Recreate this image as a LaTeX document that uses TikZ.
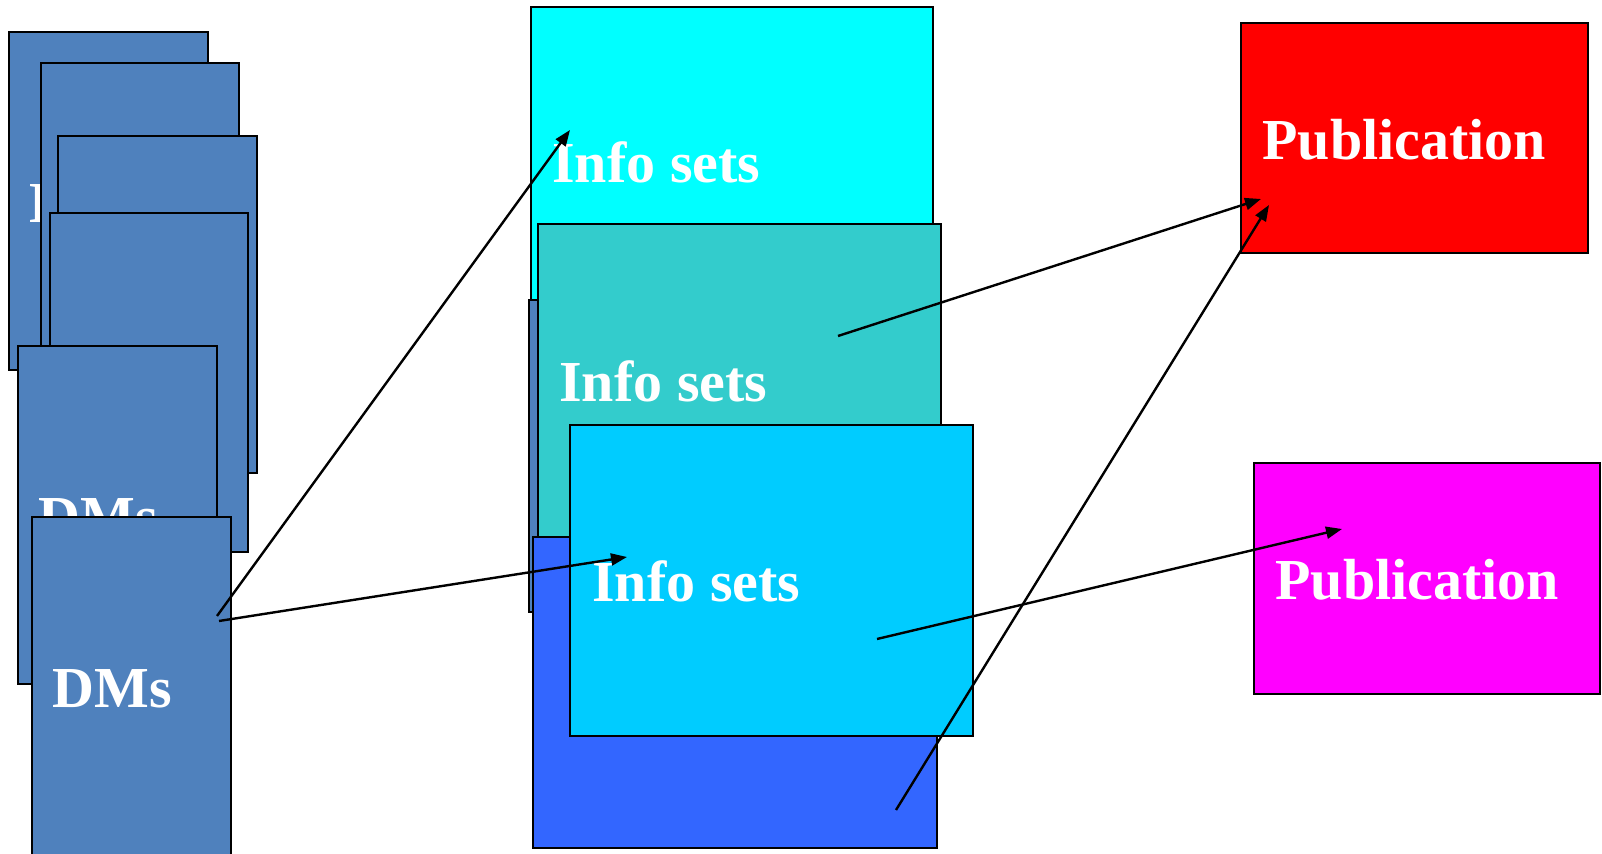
\documentclass[tikz,border=0pt]{standalone}
\usepackage{fontspec}
\setmainfont{Liberation Serif}
\usetikzlibrary{arrows.meta}
\definecolor{dmblue}{HTML}{4F81BD}
\definecolor{setcyan}{HTML}{00FFFF}
\definecolor{setteal}{HTML}{33CCCC}
\definecolor{setblue}{HTML}{3366FF}
\definecolor{setsky}{HTML}{00CCFF}
\definecolor{pubred}{HTML}{FF0000}
\definecolor{pubpink}{HTML}{FF00FF}
\tikzset{
  box/.style={draw=black,line width=1.2pt},
  lbl/.style={anchor=base west,inner sep=0pt,text=white,font=\bfseries\fontsize{29}{30}\selectfont},
  link/.style={line width=1.2pt,-{Triangle[length=8pt,width=6pt]}}
}
\begin{document}
\begin{tikzpicture}[x=0.5pt,y=-0.5pt]
\useasboundingbox (0,0) rectangle (1602,854);
% decision makers, back to front
\filldraw[box,fill=dmblue] (9,32) rectangle (208,370);
\node[lbl] (dmsA) at (29,223) {DMs};
\filldraw[box,fill=dmblue] (41,63) rectangle (239,470);
\filldraw[box,fill=dmblue] (58,136) rectangle (257,473);
\filldraw[box,fill=dmblue] (50,213) rectangle (248,552);
\filldraw[box,fill=dmblue] (18,346) rectangle (217,684);
\node[lbl] (dmsE) at (38,537) {DMs};
\filldraw[box,fill=dmblue] (32,517) rectangle (231,870);
\node[lbl] (dmsF) at (52,708) {DMs};
% info sets
\filldraw[box,fill=setcyan] (531,7) rectangle (933,420);
\node[lbl] (setG) at (552,183) {Info sets};
\filldraw[box,fill=dmblue] (529,300) rectangle (930,612);
\filldraw[box,fill=setteal] (538,224) rectangle (941,537);
\node[lbl] (setI) at (559,402) {Info sets};
\filldraw[box,fill=setblue] (533,537) rectangle (937,848);
\filldraw[box,fill=setsky] (570,425) rectangle (973,736);
\node[lbl] (setK) at (592,602) {Info sets};
% publications
\filldraw[box,fill=pubred] (1241,23) rectangle (1588,253);
\node[lbl] (pubR) at (1262,160) {Publication};
\filldraw[box,fill=pubpink] (1254,463) rectangle (1600,694);
\node[lbl] (pubM) at (1275,600) {Publication};
% arrow ends
\coordinate (dm1) at (217,616);
\coordinate (dm2) at (219,621);
\coordinate (g1) at (570,130);
\coordinate (k1) at (627,557);
\coordinate (i0) at (838,336);
\coordinate (j0) at (896,810);
\coordinate (k0) at (877,639);
\coordinate (r1) at (1261,199);
\coordinate (r2) at (1269,205);
\coordinate (m1) at (1342,529);
\draw[link] (dm1) -- (g1);
\draw[link] (dm2) -- (k1);
\draw[link] (i0) -- (r1);
\draw[link] (j0) -- (r2);
\draw[link] (k0) -- (m1);
\end{tikzpicture}
\end{document}
